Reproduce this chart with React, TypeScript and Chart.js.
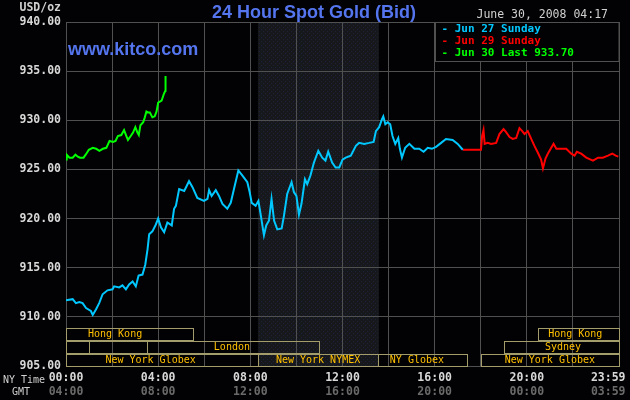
import React, { useEffect, useRef } from 'react';
import { Chart, registerables } from 'chart.js';

Chart.register(...registerables);

// NY time of day, in hours
const JUN27_HOURS = [
  0, 0.29, 0.43, 0.58, 0.72, 0.87, 1.08, 1.16, 1.3, 1.44, 1.59, 1.8, 2.02, 2.09, 2.31, 2.45, 2.6, 2.74, 2.89,
  3.03, 3.15, 3.32, 3.44, 3.54, 3.61, 3.75, 3.9, 4.0, 4.12, 4.26, 4.4, 4.59, 4.69, 4.77, 4.91, 5.13, 5.34,
  5.49, 5.7, 5.99, 6.14, 6.21, 6.32, 6.5, 6.64, 6.79, 7.0, 7.15, 7.29, 7.48, 7.65, 7.87, 7.97, 8.06, 8.23,
  8.35, 8.45, 8.59, 8.69, 8.81, 8.92, 9.03, 9.17, 9.36, 9.46, 9.6, 9.79, 9.89, 10.0, 10.11, 10.22, 10.37,
  10.47, 10.61, 10.76, 10.95, 11.12, 11.26, 11.38, 11.55, 11.7, 11.86, 12.0, 12.14, 12.36, 12.58, 12.72,
  12.94, 13.16, 13.35, 13.45, 13.59, 13.71, 13.77, 13.86, 13.96, 14.07, 14.17, 14.29, 14.42, 14.49, 14.58,
  14.72, 14.9, 15.12, 15.33, 15.52, 15.7, 15.88, 16.06, 16.28, 16.49, 16.78, 17.0, 17.22,
];
const JUN27_PRICES = [
  911.7, 911.8, 911.4, 911.5, 911.4, 910.9, 910.6, 910.2, 910.75, 911.4, 912.3, 912.7, 912.8, 913.1, 913.0,
  913.2, 912.8, 913.3, 913.6, 913.1, 914.2, 914.3, 915.3, 916.9, 918.4, 918.7, 919.4, 920.0, 919.1, 918.6,
  919.6, 919.3, 921.0, 921.3, 923.0, 922.8, 923.8, 923.2, 922.1, 921.8, 922.0, 922.9, 922.3, 922.9, 922.3,
  921.5, 921.0, 921.6, 923.0, 924.9, 924.4, 923.7, 922.7, 921.6, 921.3, 921.8, 920.4, 918.3, 919.3, 919.8,
  922.0, 919.8, 918.9, 919.0, 920.3, 922.5, 923.7, 922.7, 922.3, 920.4, 921.5, 924.0, 923.5, 924.4, 925.7,
  926.9, 926.2, 925.9, 926.8, 925.7, 925.2, 925.2, 926.0, 926.2, 926.4, 927.4, 927.7, 927.6, 927.7, 927.8,
  928.9, 929.3, 930.1, 930.4, 929.6, 929.8, 929.6, 928.4, 927.6, 928.2, 927.1, 926.2, 927.2, 927.6, 927.1,
  927.1, 926.8, 927.2, 927.1, 927.3, 927.7, 928.1, 928.0, 927.6, 927.0,
];

const JUN29_HOURS = [
  17.22, 18.01, 18.06, 18.12, 18.17, 18.3, 18.45, 18.67, 18.81, 18.99, 19.1, 19.25, 19.39, 19.54, 19.68,
  19.8, 19.9, 20.04, 20.19, 20.33, 20.48, 20.62, 20.7, 20.81, 20.91, 21.06, 21.16, 21.28, 21.49, 21.71,
  21.93, 22.07, 22.17, 22.36, 22.58, 22.87, 23.09, 23.3, 23.52, 23.71, 23.86, 23.97,
];
const JUN29_PRICES = [
  927.0, 927.0, 928.4, 929.0, 927.6, 927.7, 927.6, 927.7, 928.6, 929.1, 928.8, 928.3, 928.1, 928.2, 929.2,
  928.9, 928.6, 928.9, 928.1, 927.4, 926.7, 926.0, 925.1, 926.1, 926.6, 927.2, 927.6, 927.1, 927.1, 927.1,
  926.6, 926.4, 926.8, 926.6, 926.2, 925.9, 926.2, 926.2, 926.4, 926.6, 926.4, 926.3,
];

const JUN30_HOURS = [
  0, 0.03, 0.15, 0.29, 0.41, 0.51, 0.61, 0.76, 0.87, 0.99, 1.16, 1.31, 1.45, 1.6, 1.75, 1.89, 2.04, 2.15,
  2.25, 2.4, 2.52, 2.62, 2.69, 2.81, 2.91, 3.01, 3.1, 3.16, 3.23, 3.35, 3.42, 3.49, 3.56, 3.64, 3.75, 3.85,
  3.93, 4.0, 4.15, 4.25, 4.31, 4.32,
];
const JUN30_PRICES = [
  926.0, 926.5, 926.2, 926.2, 926.5, 926.3, 926.2, 926.2, 926.55, 927.0, 927.2, 927.1, 926.9, 927.1, 927.2,
  927.9, 927.8, 927.9, 928.4, 928.5, 929.0, 928.4, 928.0, 928.4, 928.75, 929.3, 928.75, 928.5, 929.5, 929.8,
  930.3, 930.9, 930.8, 930.8, 930.3, 930.4, 930.9, 931.8, 932.0, 932.7, 933.0, 934.5,
];

const SERIES_LABELS = ['Jun 27 Sunday', 'Jun 29 Sunday', 'Jun 30 Last 933.70'];

const NY_TICK_HOURS = [0, 4, 8, 12, 16, 20, 23 + 59 / 60];
const NY_TICK_LABELS = ['00:00', '04:00', '08:00', '12:00', '16:00', '20:00', '23:59'];
const GMT_TICK_LABELS = ['04:00', '08:00', '12:00', '16:00', '20:00', '00:00', '03:59'];

// NYMEX floor session (shaded)
const NYMEX_HOURS = [8.33, 13.58];

// trading sessions strip, row 0 = top
const SESSION_LABELS = ['Hong Kong', 'Hong Kong', '', '', 'London', 'Sydney', 'New York Globex', 'New York NYMEX', 'NY Globex', 'New York Globex'];
const SESSION_ROWS = [0, 0, 1, 1, 1, 1, 2, 2, 2, 2];
const SESSION_STARTS = [0, 20.5, 0, 1.0, 3.5, 19.0, 0, 8.33, 13.55, 18.0];
const SESSION_ENDS = [5.5, 23.98, 1.0, 3.5, 11.0, 23.98, 8.33, 13.55, 17.4, 23.98];
const SESSION_LABEL_HOURS = [2.13, 22.1, 0, 0, 7.2, 21.57, 3.67, 10.94, 15.23, 21.0];

const GRID = '#505050';
const BLUE = '#5475ee';
const MONO = '"DejaVu Sans Mono", monospace';
const COLORS = ['#00c8ff', '#ff0000', '#00ff00'];

const toPoints = (hours: number[], prices: number[]) => hours.map((h, i) => ({ x: h, y: prices[i] }));

let shade: CanvasPattern | null = null;
const shadePattern = (ctx: CanvasRenderingContext2D) => {
  if (!shade) {
    const c = document.createElement('canvas');
    c.width = 4;
    c.height = 4;
    const p = c.getContext('2d')!;
    p.fillStyle = '#17181b';
    p.fillRect(0, 0, 4, 4);
    p.fillStyle = '#1c2238';
    p.fillRect(1, 1, 1, 1);
    p.fillRect(3, 3, 1, 1);
    shade = ctx.createPattern(c, 'repeat');
  }
  return shade!;
};

const kitcoPlugin = {
  id: 'kitco',
  beforeDraw(chart: any) {
    const { ctx, chartArea: a, scales } = chart;
    const x = scales.x;
    ctx.save();
    ctx.fillStyle = '#020204';
    ctx.fillRect(0, 0, chart.width, chart.height);
    const x0 = x.getPixelForValue(NYMEX_HOURS[0]);
    const x1 = x.getPixelForValue(NYMEX_HOURS[1]);
    ctx.fillStyle = shadePattern(ctx);
    ctx.fillRect(x0, a.top, x1 - x0, a.bottom - a.top);
    ctx.restore();
  },
  afterDatasetsDraw(chart: any) {
    const { ctx, chartArea: a, scales } = chart;
    const x = scales.x;
    ctx.save();

    // sessions strip
    const rowH = 13;
    ctx.lineWidth = 1;
    ctx.strokeStyle = '#a39d6c';
    ctx.font = '10px ' + MONO;
    ctx.textAlign = 'center';
    ctx.textBaseline = 'middle';
    SESSION_LABELS.forEach((label, i) => {
      const top = Math.round(a.bottom) - (3 - SESSION_ROWS[i]) * rowH + 1;
      const xs = Math.round(x.getPixelForValue(SESSION_STARTS[i]));
      const xe = Math.round(x.getPixelForValue(SESSION_ENDS[i]));
      ctx.strokeRect(xs + 0.5, top + 0.5, xe - xs, rowH - 1);
      if (label) {
        ctx.fillStyle = '#ffc000';
        ctx.fillText(label, x.getPixelForValue(SESSION_LABEL_HOURS[i]), top + 6.5);
      }
    });

    // legend box
    const lx = Math.round(x.getPixelForValue(16)) + 0.5;
    const ly = Math.round(a.top) + 0.5;
    const lw = Math.round(a.right) - lx;
    ctx.fillStyle = '#020204';
    ctx.fillRect(lx, ly, lw, 39);
    ctx.strokeStyle = GRID;
    ctx.strokeRect(lx, ly, lw, 39);
    ctx.font = 'bold 11px ' + MONO;
    ctx.textAlign = 'left';
    chart.data.datasets.forEach((ds: any, i: number) => {
      ctx.fillStyle = ds.borderColor;
      ctx.fillText('- ' + ds.label, lx + 6, ly + 7 + i * 12);
    });
    ctx.restore();
  },
  afterDraw(chart: any) {
    const { ctx } = chart;
    ctx.save();
    ctx.fillStyle = BLUE;
    ctx.font = 'bold 18px "Liberation Sans", Arial, sans-serif';
    ctx.textBaseline = 'alphabetic';
    ctx.textAlign = 'center';
    ctx.fillText('24 Hour Spot Gold (Bid)', 314, 18);
    ctx.textAlign = 'left';
    ctx.fillText('www.kitco.com', 68, 55);

    ctx.textBaseline = 'middle';
    ctx.fillStyle = '#d0d0d0';
    ctx.font = '11.5px ' + MONO;
    ctx.textAlign = 'right';
    ctx.fillText('June 30, 2008 04:17', 608, 15);
    ctx.font = 'bold 11.5px ' + MONO;
    ctx.fillText('USD/oz', 61, 8);
    ctx.font = '10px ' + MONO;
    ctx.textAlign = 'center';
    ctx.fillText('NY Time', 24, 380);
    ctx.fillText('GMT', 21, 392);
    ctx.restore();
  },
};

const labelAxis = (labels: string[], color: string, weight: number, height: number, padding: number) => ({
  type: 'linear' as const,
  position: 'bottom' as const,
  min: 0,
  max: 24,
  weight,
  grid: { display: false, drawTicks: false },
  border: { display: false },
  afterBuildTicks: (axis: any) => {
    axis.ticks = NY_TICK_HOURS.map((v) => ({ value: v }));
  },
  afterFit: (axis: any) => {
    axis.height = height;
    axis.paddingLeft = 0;
    axis.paddingRight = 0;
  },
  ticks: {
    autoSkip: false,
    maxRotation: 0,
    padding,
    color,
    font: { family: MONO, size: 11.5, weight: 'bold' as const },
    // last label sits inside the image like the original
    callback: (_v: any, i: number) => (i === labels.length - 1 ? labels[i] + '   ' : labels[i]),
  },
});

const GoldChart: React.FC = () => {
  const chartRef = useRef<HTMLCanvasElement>(null);

  useEffect(() => {
    if (!chartRef.current) return;
    const series = [toPoints(JUN27_HOURS, JUN27_PRICES), toPoints(JUN29_HOURS, JUN29_PRICES), toPoints(JUN30_HOURS, JUN30_PRICES)];
    const chart = new Chart(chartRef.current, {
      type: 'line',
      data: {
        datasets: series.map((data, i) => ({
          label: SERIES_LABELS[i],
          data,
          borderColor: COLORS[i],
          borderWidth: 2,
          pointRadius: 0,
          tension: 0,
          fill: false,
        })),
      },
      options: {
        animation: false,
        responsive: true,
        maintainAspectRatio: false,
        layout: { padding: { top: 22, right: 11, bottom: 0, left: 0 } },
        plugins: { legend: { display: false }, tooltip: { enabled: false } },
        scales: {
          x: {
            type: 'linear',
            position: 'bottom',
            min: 0,
            max: 24,
            weight: 0,
            grid: { color: GRID, drawTicks: false },
            border: { color: GRID },
            ticks: { display: false, stepSize: 2 },
            afterFit: (axis: any) => {
              axis.height = 0;
              axis.paddingLeft = 0;
              axis.paddingRight = 0;
            },
          },
          xNY: labelAxis(NY_TICK_LABELS, '#d8d8d8', 1, 18, 5),
          xGMT: labelAxis(GMT_TICK_LABELS, '#6a6a6a', 2, 16, 1),
          y: {
            position: 'left',
            min: 905,
            max: 940,
            grid: { color: GRID, drawTicks: false },
            border: { color: GRID },
            ticks: {
              stepSize: 5,
              padding: 5,
              color: '#d8d8d8',
              font: { family: MONO, size: 11.5, weight: 'bold' },
              callback: (v: any) => Number(v).toFixed(2),
            },
            afterFit: (axis: any) => {
              axis.width = 66;
            },
          },
        },
      },
      plugins: [kitcoPlugin],
    });
    return () => {
      chart.destroy();
    };
  }, []);

  return (
    <div style={{ position: 'absolute', left: 0, top: 0, width: 630, height: 400, background: '#020204' }}>
      <canvas ref={chartRef} />
    </div>
  );
};

export default function App() {
  return <GoldChart />;
}
